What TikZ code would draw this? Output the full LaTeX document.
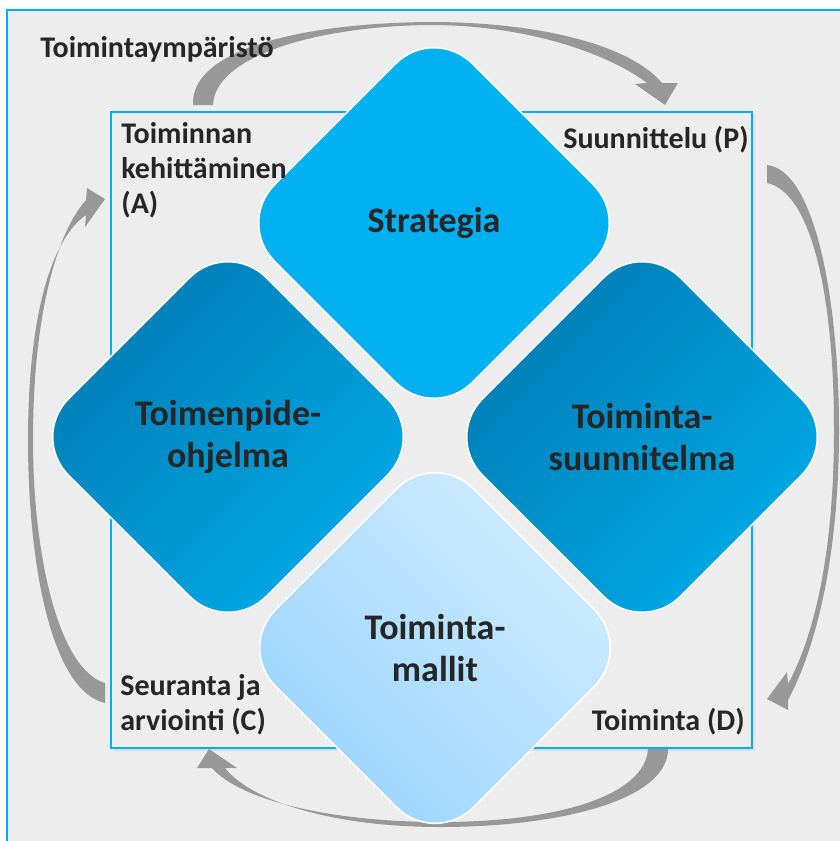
\documentclass[tikz,border=0pt]{standalone}
\usepackage{fontspec}
\setmainfont{Carlito}
\usetikzlibrary{shapes.geometric,shadows}

\definecolor{framecyan}{RGB}{0,176,240}
\definecolor{bggray}{RGB}{237,237,237}
\definecolor{arrowgray}{RGB}{152,152,152}
\definecolor{textgray}{RGB}{38,38,38}
\definecolor{stratblue}{RGB}{0,176,240}
\definecolor{darkblue}{RGB}{0,122,178}
\definecolor{midblue}{RGB}{0,172,234}
\definecolor{paleblue}{RGB}{210,237,255}
\definecolor{lightblue}{RGB}{152,212,255}

\begin{document}
\begin{tikzpicture}[x=0.5pt,y=-0.5pt]


\tikzset{phase/.style={diamond,aspect=1,minimum width=198pt,minimum height=198pt,inner sep=0pt,rounded corners=27pt,draw=white,line width=0.8pt,align=center,text=textgray,font=\fontsize{18}{21}\selectfont\bfseries},}
\tikzset{corner/.style={inner sep=0pt,align=left,text=textgray,font=\fontsize{15}{17.5}\selectfont\bfseries},}
\tikzset{cyclearrow/.style={fill=arrowgray,draw=none},}

\useasboundingbox (0,0) rectangle (840,841);
\clip (0,0) rectangle (840,841);
\fill[white] (0,0) rectangle (840,841);
\draw[framecyan,line width=1pt,fill=bggray] (7,10) rectangle (880,880);
\draw[framecyan,line width=1pt,fill=bggray,drop shadow={opacity=0.12,shadow xshift=1.5pt,shadow yshift=-1.5pt}] (111,112) rectangle (752,748);

	% P -> D -> C -> A -> P
	\fill[cyclearrow] (193,105) .. controls (190,50) and (300,23) .. (430,22) .. controls (540,22) and (630,45) .. (662,83)
		-- (678,83) -- (665,105) -- (635,84) -- (647,83)
		.. controls (610,55) and (530,25) .. (430,25) .. controls (320,26) and (215,55) .. (213,105) -- cycle;
	\fill[cyclearrow] (767,165) .. controls (815,170) and (839,300) .. (839,430) .. controls (839,560) and (815,650) .. (788,700)
		-- (788,710) -- (767,699) -- (787,672) -- (788,684)
		.. controls (812,640) and (834,560) .. (834,430) .. controls (834,290) and (810,192) .. (767,183) -- cycle;
	\fill[cyclearrow] (668,749) .. controls (668,800) and (560,827) .. (440,827) .. controls (330,827) and (250,800) .. (225,768)
		-- (237,768) -- (209,749) -- (197,768) -- (212,768)
		.. controls (240,800) and (330,822) .. (440,822) .. controls (560,822) and (645,795) .. (648,749) -- cycle;
	\fill[cyclearrow] (105,703) .. controls (50,690) and (28,560) .. (28,440) .. controls (28,320) and (50,240) .. (86,215)
		-- (85,227) -- (105,199) -- (87,188) -- (86,200)
		.. controls (55,235) and (33,320) .. (33,440) .. controls (33,560) and (60,670) .. (105,683) -- cycle;

	\node[phase,fill=stratblue] (strat) at (434,223) {Strategia};
	\node[phase,top color=darkblue,bottom color=midblue,shading angle=45] (ohjelma) at (228,437) {Toimenpide-\\ohjelma};
	\node[phase,top color=darkblue,bottom color=midblue,shading angle=45] (suunn) at (642,437) {Toiminta-\\suunnitelma};
	\node[phase,top color=paleblue,bottom color=lightblue,shading angle=-45] (mallit) at (435,648) {Toiminta-\\mallit};

	\node[corner,anchor=base west] (env) at (40,57) {Toimintaympäristö};
	\node[corner,anchor=base west] (actlabel) at (121,213) {Toiminnan\\kehittäminen\\(A)};
	\node[corner,anchor=base east] (planlabel) at (749,148) {Suunnittelu (P)};
	\node[corner,anchor=base west] (checklabel) at (120,730) {Seuranta ja\\arviointi (C)};
	\node[corner,anchor=base east] (dolabel) at (745,730) {Toiminta (D)};

\end{tikzpicture}
\end{document}
